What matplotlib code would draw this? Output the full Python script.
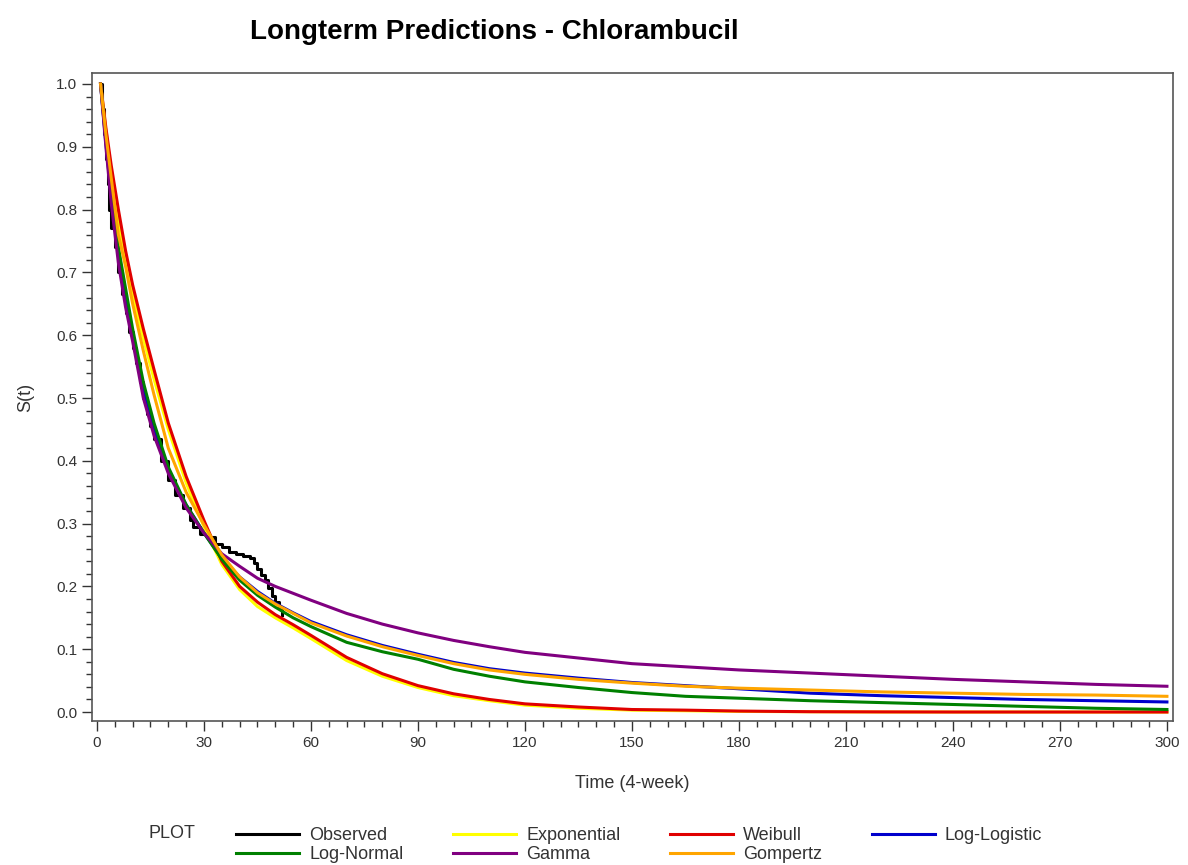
import numpy as np
import matplotlib.pyplot as plt
from matplotlib.ticker import MultipleLocator, FormatStrFormatter

plt.rcParams['font.family'] = ['Liberation Sans', 'DejaVu Sans']

# observed Kaplan-Meier steps
obs_t = [1, 1.5, 2, 2.5, 3, 3.5, 4, 5, 6, 7, 8, 9, 10, 11, 12, 13, 14, 15, 16, 18, 20,
         22, 24, 26, 27, 29, 31, 33, 35, 37, 39, 41, 43, 44, 45, 46, 47, 48, 49, 50, 51, 52]
obs_s = [1.0, 0.96, 0.92, 0.88, 0.84, 0.80, 0.77, 0.74, 0.70, 0.665, 0.635, 0.605, 0.58,
         0.555, 0.525, 0.50, 0.475, 0.455, 0.435, 0.40, 0.37, 0.345, 0.325, 0.305, 0.295,
         0.283, 0.278, 0.268, 0.262, 0.255, 0.252, 0.249, 0.245, 0.238, 0.228, 0.218, 0.21,
         0.198, 0.185, 0.175, 0.165, 0.155]

# model predictions
t = [1, 2.5, 4, 6, 8, 10, 13, 16, 20, 25, 30, 35, 40, 45, 50, 55, 60, 70, 80, 90, 100,
     110, 120, 135, 150, 165, 180, 200, 220, 240, 260, 280, 300]
exponential = [1.0, 0.925, 0.86, 0.785, 0.72, 0.665, 0.595, 0.53, 0.45, 0.365, 0.295, 0.235,
               0.195, 0.168, 0.150, 0.134, 0.117, 0.082, 0.057, 0.039, 0.026, 0.018, 0.011,
               0.006, 0.003, 0.002, 0.001, 0.0004, 0.0, 0.0, 0.0, 0.0, 0.0]
weibull = [1.0, 0.93, 0.87, 0.80, 0.735, 0.68, 0.61, 0.545, 0.46, 0.375, 0.305, 0.24, 0.20,
           0.175, 0.155, 0.139, 0.122, 0.087, 0.061, 0.042, 0.029, 0.020, 0.013, 0.008,
           0.004, 0.003, 0.0015, 0.0005, 0.0002, 0.0, 0.0, 0.0, 0.0]
loglogistic = [1.0, 0.905, 0.82, 0.73, 0.66, 0.60, 0.515, 0.45, 0.385, 0.33, 0.285, 0.245,
               0.215, 0.192, 0.173, 0.158, 0.144, 0.123, 0.106, 0.092, 0.079, 0.069, 0.062,
               0.054, 0.047, 0.042, 0.037, 0.030, 0.026, 0.023, 0.020, 0.018, 0.016]
lognormal = [1.0, 0.91, 0.83, 0.74, 0.675, 0.61, 0.525, 0.46, 0.39, 0.33, 0.285, 0.243, 0.21,
             0.186, 0.167, 0.150, 0.136, 0.111, 0.096, 0.084, 0.068, 0.057, 0.048, 0.039,
             0.031, 0.025, 0.022, 0.018, 0.015, 0.012, 0.009, 0.006, 0.004]
gamma = [1.0, 0.90, 0.81, 0.715, 0.645, 0.59, 0.50, 0.44, 0.38, 0.325, 0.285, 0.252, 0.232,
         0.213, 0.200, 0.189, 0.178, 0.157, 0.140, 0.126, 0.114, 0.104, 0.095, 0.086, 0.077,
         0.072, 0.067, 0.062, 0.057, 0.052, 0.048, 0.044, 0.041]
gompertz = [1.0, 0.92, 0.85, 0.76, 0.71, 0.65, 0.575, 0.505, 0.42, 0.35, 0.298, 0.25, 0.215,
            0.19, 0.172, 0.157, 0.142, 0.121, 0.104, 0.090, 0.077, 0.067, 0.060, 0.052,
            0.046, 0.041, 0.038, 0.035, 0.032, 0.030, 0.028, 0.027, 0.025]

fig = plt.figure(figsize=(11.88, 8.65), dpi=100)
ax = fig.add_axes([92 / 1188, 1 - 721 / 865, (1173 - 92) / 1188, (721 - 73) / 865])

lw = 2.2
ax.plot(obs_t, obs_s, color="black", lw=lw, drawstyle="steps-post", label="Observed")
ax.plot(t, exponential, color="#FFFF00", lw=lw, label="Exponential")
ax.plot(t, weibull, color="#E00000", lw=lw, label="Weibull")
ax.plot(t, loglogistic, color="#0000CC", lw=lw, label="Log-Logistic")
ax.plot(t, lognormal, color="#008000", lw=lw, label="Log-Normal")
ax.plot(t, gamma, color="#800080", lw=lw, label="Gamma")
ax.plot(t, gompertz, color="#FFA500", lw=lw, label="Gompertz")

ax.set_xlim(-1.4, 301.7)
ax.set_ylim(-0.0143, 1.0175)
ax.xaxis.set_major_locator(MultipleLocator(30))
ax.xaxis.set_minor_locator(MultipleLocator(5))
ax.yaxis.set_major_locator(MultipleLocator(0.1))
ax.yaxis.set_minor_locator(MultipleLocator(0.02))
ax.yaxis.set_major_formatter(FormatStrFormatter("%.1f"))
ax.tick_params(which="major", length=7, width=1, color="#333333", labelsize=11, labelcolor="#333333")
ax.tick_params(which="minor", length=4, width=1, color="#333333")
for s in ax.spines.values():
    s.set_color("#555555")
    s.set_linewidth(1.2)

ax.set_xlabel("Time (4-week)", fontsize=13, color="#333333", labelpad=18)
ax.set_ylabel("S(t)", fontsize=13, color="#333333", labelpad=16)
fig.text(494 / 1188, 1 - 32 / 865, "Longterm Predictions - Chlorambucil", fontsize=20,
         fontweight="bold", ha="center", va="center")

# legend, filled row by row like the original
h, l = ax.get_legend_handles_labels()
order = [0, 4, 1, 5, 2, 6, 3]
fig.legend([h[i] for i in order], [l[i] for i in order], ncol=4, frameon=False,
           loc="center left", bbox_to_anchor=(236 / 1188, 1 - 845 / 865), fontsize=13,
           handlelength=3.5, handletextpad=0.55, columnspacing=2.75, labelspacing=0.1,
           borderpad=0, borderaxespad=0, labelcolor="#333333")
fig.text(148 / 1188, 1 - 834 / 865, "PLOT", fontsize=13, color="#333333", va="center")

fig.savefig("out.png", dpi=100)
